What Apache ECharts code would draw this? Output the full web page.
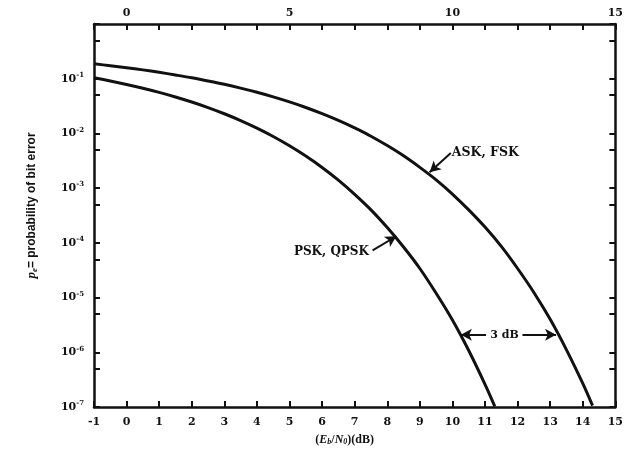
<!DOCTYPE html>
<html><head><meta charset="utf-8">
<script src="https://cdn.jsdelivr.net/npm/echarts@6/dist/echarts.min.js"></script>
<style>html,body{margin:0;padding:0;background:#fff}#c{width:626px;height:458px}</style>
</head><body><div id="c"></div>
<script>
// Eb/N0 (dB) and probability of bit error
const pskDb  = [-1, -0.5, 0, 0.5, 1, 1.5, 2, 2.5, 3, 3.5, 4, 4.5, 5, 5.5, 6, 6.5, 7, 7.5, 8, 8.5, 9, 9.5, 10, 10.5, 11, 11.3];
const pskBer = [0.104, 0.091, 0.0786, 0.0671, 0.0563, 0.0464, 0.0375, 0.0297, 0.0229, 0.0172, 0.0125, 0.0088, 0.00595, 0.00386, 0.00239, 0.0014, 7.7e-4, 4.0e-4, 1.9e-4, 8.4e-5, 3.4e-5, 1.2e-5, 3.9e-6, 1.08e-6, 2.6e-7, 1.03e-7];
const askDb  = [-1, -0.5, 0, 0.5, 1, 1.5, 2, 2.5, 3, 3.5, 4, 4.5, 5, 5.5, 6, 6.5, 7, 7.5, 8, 8.5, 9, 9.5, 10, 10.5, 11, 11.5, 12, 12.5, 13, 13.5, 14, 14.3];
const askBer = [0.187, 0.173, 0.159, 0.145, 0.131, 0.117, 0.104, 0.091, 0.079, 0.0673, 0.0565, 0.0466, 0.0377, 0.0298, 0.023, 0.0173, 0.0126, 0.0089, 0.006, 0.0039, 0.0024, 0.00142, 7.8e-4, 4.0e-4, 1.94e-4, 8.6e-5, 3.4e-5, 1.24e-5, 4.0e-6, 1.11e-6, 2.7e-7, 1.06e-7];
const bottomTickLabels = [-1, 0, 1, 2, 3, 4, 5, 6, 7, 8, 9, 10, 11, 12, 13, 14, 15];
const topTickLabels = [0, 5, 10, 15];
const yTickValues = [1e-7, 5e-7, 1e-6, 5e-6, 1e-5, 5e-5, 1e-4, 5e-4, 1e-3, 5e-3, 1e-2, 5e-2, 1e-1, 5e-1, 1];
const yLabelValues = [1e-7, 1e-6, 1e-5, 1e-4, 1e-3, 1e-2, 1e-1];
const labelASK = 'ASK, FSK';
const labelPSK = 'PSK, QPSK';
const label3dB = '3 dB';

const serif = '"DejaVu Serif", "Liberation Serif", serif';
const tserif = '"Liberation Serif", "DejaVu Serif", serif';
const sans = '"Liberation Sans", Arial, sans-serif';
const black = '#111';

const chart = echarts.init(document.getElementById('c'));
const axisLineStyle = { color: black, width: 2.5 };
const tickStyle = { show: true, inside: true, length: 6, lineStyle: { color: black, width: 2 } };
const tickFont = { color: black, fontFamily: serif, fontWeight: 'bold', fontSize: 11 };

chart.setOption({
  animation: false,
  backgroundColor: '#fff',
  grid: { left: 94, right: 9, top: 24, bottom: 51 },
  xAxis: [{
    type: 'value', position: 'bottom', min: -1, max: 15, interval: 1,
    axisLine: { show: true, lineStyle: axisLineStyle, onZero: false },
    axisTick: tickStyle,
    axisLabel: Object.assign({ margin: 10, customValues: bottomTickLabels }, tickFont),
    splitLine: { show: false },
    name: '{n|(}{i|E}{sb|b}{n|/}{i|N}{sb|0}{n|)(dB)}',
    nameLocation: 'middle', nameGap: 27,
    nameTextStyle: {
      padding: [0, 20, 0, 0],
      rich: {
        n: { fontFamily: tserif, fontWeight: 'bold', fontSize: 12, color: black },
        i: { fontFamily: tserif, fontWeight: 'bold', fontStyle: 'italic', fontSize: 12, color: black },
        sb: { fontFamily: tserif, fontWeight: 'bold', fontStyle: 'italic', fontSize: 8, color: black, verticalAlign: 'bottom', padding: [4, 0, 0, 0] }
      }
    }
  }, {
    type: 'value', position: 'top', min: -1, max: 15, interval: 1,
    axisLine: { show: true, lineStyle: axisLineStyle, onZero: false },
    axisTick: tickStyle,
    axisLabel: Object.assign({ margin: 5, customValues: topTickLabels }, tickFont),
    splitLine: { show: false }
  }],
  yAxis: [{
    type: 'log', logBase: 10, min: 1e-7, max: 1, position: 'left',
    axisLine: { show: true, lineStyle: axisLineStyle, onZero: false },
    axisTick: Object.assign({ customValues: yTickValues }, tickStyle),
    axisLabel: {
      margin: 10, customValues: yLabelValues,
      formatter: function (v) {
        const e = Math.round(Math.log10(v));
        return '{b|10}{s|' + e + '}';
      },
      rich: {
        b: { fontFamily: serif, fontWeight: 'bold', fontSize: 11, color: black, lineHeight: 14 },
        s: { fontFamily: serif, fontWeight: 'bold', fontSize: 7, color: black, verticalAlign: 'top', lineHeight: 8 }
      }
    },
    splitLine: { show: false },
    name: '{i|p}{sb|e}{n|= probability of bit error}',
    nameLocation: 'middle', nameGap: 55, nameRotate: 90,
    nameTextStyle: {
      padding: [0, 0, 0, 20],
      rich: {
        n: { fontFamily: sans, fontWeight: 'bold', fontSize: 12, color: black },
        i: { fontFamily: tserif, fontStyle: 'italic', fontWeight: 'bold', fontSize: 13, color: black },
        sb: { fontFamily: tserif, fontStyle: 'italic', fontWeight: 'bold', fontSize: 9, color: black, verticalAlign: 'bottom', padding: [5, 0, 0, 0] }
      }
    }
  }, {
    type: 'log', logBase: 10, min: 1e-7, max: 1, position: 'right',
    axisLine: { show: true, lineStyle: axisLineStyle, onZero: false },
    axisTick: Object.assign({ customValues: yTickValues }, tickStyle),
    axisLabel: { show: false },
    splitLine: { show: false }
  }],
  series: [{
    name: labelPSK, type: 'line', xAxisIndex: 0, yAxisIndex: 0,
    data: pskDb.map((x, i) => [x, pskBer[i]]),
    smooth: 0.3, showSymbol: false, clip: true,
    lineStyle: { color: black, width: 3 },
    markLine: {
      silent: true, symbol: ['none', 'arrow'], symbolSize: [9, 11],
      lineStyle: { color: black, width: 2, type: 'solid' }, label: { show: false },
      data: [
        [{ coord: [7.55, 7.3e-5] }, { coord: [8.28, 1.32e-4] }],
        [{ coord: [11.03, 2.1e-6] }, { coord: [10.26, 2.1e-6] }]
      ]
    },
    markPoint: {
      silent: true, symbol: 'circle', symbolSize: 0,
      data: [
        { coord: [7.5, 6.8e-5], label: { show: true, position: 'left', distance: 2, formatter: labelPSK, fontFamily: serif, fontWeight: 'bold', fontSize: 12, color: black } },
        { coord: [11.6, 2.1e-6], label: { show: true, position: 'inside', formatter: label3dB, fontFamily: serif, fontWeight: 'bold', fontSize: 11, color: black } }
      ]
    }
  }, {
    name: labelASK, type: 'line', xAxisIndex: 0, yAxisIndex: 0,
    data: askDb.map((x, i) => [x, askBer[i]]),
    smooth: 0.3, showSymbol: false, clip: true,
    lineStyle: { color: black, width: 3 },
    markLine: {
      silent: true, symbol: ['none', 'arrow'], symbolSize: [9, 11],
      lineStyle: { color: black, width: 2, type: 'solid' }, label: { show: false },
      data: [
        [{ coord: [9.95, 4.4e-3] }, { coord: [9.3, 1.95e-3] }],
        [{ coord: [12.15, 2.1e-6] }, { coord: [13.18, 2.1e-6] }]
      ]
    },
    markPoint: {
      silent: true, symbol: 'circle', symbolSize: 0,
      data: [
        { coord: [9.95, 4.4e-3], label: { show: true, position: 'right', distance: 1, formatter: labelASK, fontFamily: serif, fontWeight: 'bold', fontSize: 12.5, color: black } }
      ]
    }
  }]
});
</script>
</body></html>
